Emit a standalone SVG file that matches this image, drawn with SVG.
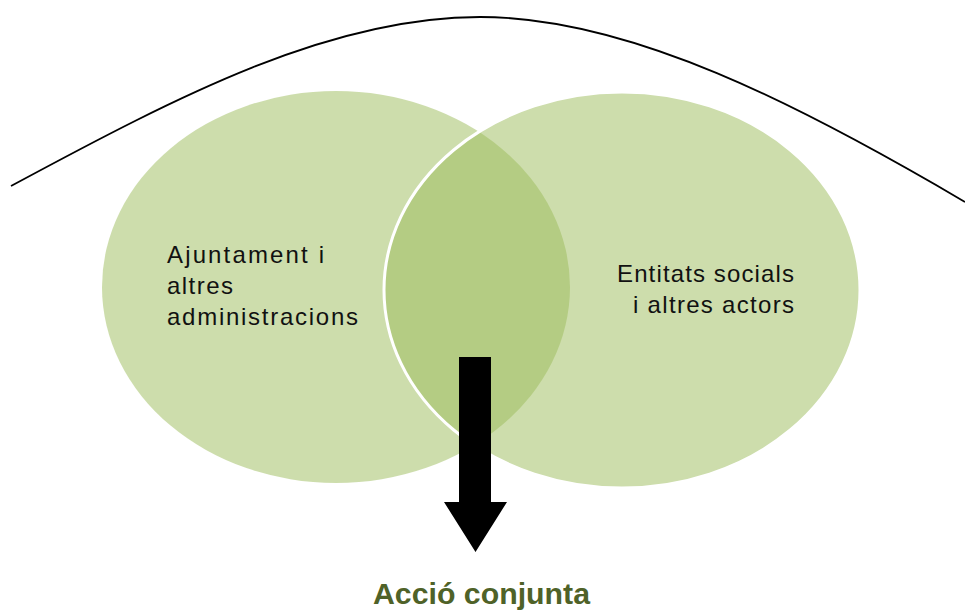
<svg xmlns="http://www.w3.org/2000/svg" width="965" height="610" viewBox="0 0 965 610">
<style>
.circ{fill:#9bbb59;fill-opacity:0.5}
.lbl{font-family:"Liberation Sans",Arial,sans-serif;font-size:24px;fill:#111111}
.title{font-family:"Liberation Sans",Arial,sans-serif;font-size:30px;font-weight:bold;fill:#4f6228}
</style>
<rect width="965" height="610" fill="#ffffff"/>
<g id="connectors">
<path id="arc" d="M11,186 C180,95 330,17 480,17 C630,17 800,105 965,202" fill="none" stroke="#000" stroke-width="1.8"/>
</g>
<g id="left-node">
<ellipse class="circ" cx="336" cy="287" rx="234" ry="196"/>
<text class="lbl"><tspan x="167" y="263" textLength="157" lengthAdjust="spacing">Ajuntament i</tspan><tspan x="167" y="294" textLength="66" lengthAdjust="spacing">altres</tspan><tspan x="167" y="325" textLength="191" lengthAdjust="spacing">administracions</tspan></text>
</g>
<g id="right-node">
<ellipse class="circ" cx="622" cy="290" rx="238" ry="198" stroke="#ffffff" stroke-width="3"/>
<text class="lbl"><tspan x="617" y="282" textLength="177" lengthAdjust="spacing">Entitats socials</tspan><tspan x="633" y="313" textLength="161" lengthAdjust="spacing">i altres actors</tspan></text>
</g>
<g id="arrow">
<polygon points="459,357 491,357 491,502 507,502 475.5,552 444,502 459,502" fill="#000"/>
</g>
<g id="result">
<text class="title" x="373" y="604" textLength="217" lengthAdjust="spacingAndGlyphs">Acció conjunta</text>
</g>
</svg>
